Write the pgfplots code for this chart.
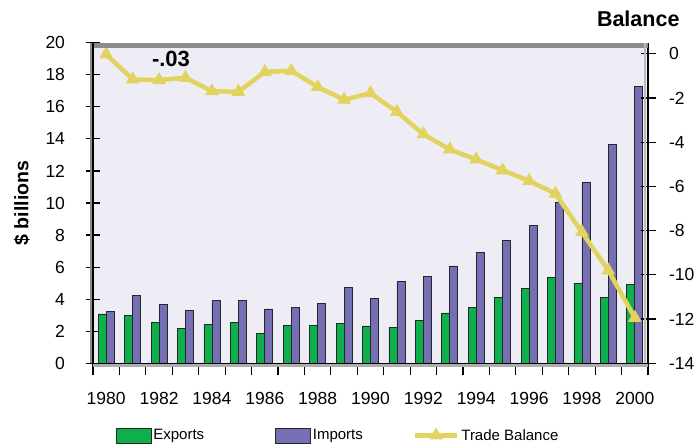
\documentclass[border=0pt]{standalone}
\usepackage{fontspec}
\setmainfont{Liberation Sans}
\usepackage{pgfplots}
\usepackage{pgfplotstable}
\pgfplotsset{compat=1.18}
\usetikzlibrary{calc}

\definecolor{expgreen}{RGB}{13,176,75}
\definecolor{impblue}{RGB}{117,112,179}
\definecolor{balyellow}{RGB}{226,211,94}
\definecolor{plotbg}{RGB}{238,237,246}
\definecolor{framegray}{RGB}{140,140,140}

\newcommand\tfont{\fontsize{17.5}{17.5}\selectfont}

% $ billions
\pgfplotstableread{
year exp imp
1980 3.08 3.26
1981 2.97 4.22
1982 2.53 3.68
1983 2.18 3.31
1984 2.45 3.90
1985 2.53 3.93
1986 1.89 3.39
1987 2.35 3.49
1988 2.35 3.74
1989 2.51 4.72
1990 2.33 4.05
1991 2.25 5.09
1992 2.68 5.43
1993 3.14 6.07
1994 3.49 6.92
1995 4.12 7.65
1996 4.65 8.61
1997 5.38 10.06
1998 4.99 11.27
1999 4.09 13.68
2000 4.93 17.25
}\trade

% balance
\pgfplotstableread{
year bal
1980 -0.03
1981 -1.16
1982 -1.19
1983 -1.09
1984 -1.69
1985 -1.72
1986 -0.82
1987 -0.77
1988 -1.50
1989 -2.08
1990 -1.78
1991 -2.63
1992 -3.64
1993 -4.33
1994 -4.78
1995 -5.27
1996 -5.75
1997 -6.33
1998 -8.07
1999 -9.80
2000 -11.94
}\balance

\pgfplotsset{
  common/.style={
    scale only axis, width=555pt, height=320.6pt,
    xmin=1979.5, xmax=2000.5,
    /pgf/number format/assume math mode=true,
    ticklabel style={font=\tfont},
    tick style={black, line width=1.2pt},
  },
  boxlegend/.style={
    legend image code/.code={\draw[##1] (0pt,-7.5pt) rectangle (35pt,7.5pt);}},
  linelegend/.style={
    legend image code/.code={\draw[mark repeat=2, mark phase=2, ##1]
      plot coordinates {(0pt,0pt) (21pt,0pt) (42pt,0pt)};}},
}

\begin{document}
\begin{tikzpicture}
\begin{axis}[common, name=ax, at={(0,0)}, anchor=south west,
  ymin=0, ymax=20,
  ybar=0pt, bar width=8pt,
  axis background/.style={fill=plotbg},
  axis y line*=left, axis x line*=bottom,
  axis line style={black, line width=1.5pt, -},
  ytick={0,2,...,20},
  yticklabel style={xshift=-17pt},
  ytick align=center, major tick length=15pt,
  xtick={1980,1982,...,2000},
  xticklabel style={/pgf/number format/1000 sep={}, yshift=-10pt},
  major x tick style={draw=none},
  minor xtick={1979.5,1980.5,...,2000.5},
  minor tick length=12pt, xtick align=outside,
  minor x tick style={black, line width=1.2pt},
  ylabel={\$ billions},
  ylabel style={font=\bfseries\fontsize{19.5}{19.5}\selectfont, at={(axis description cs:-0.128,0.5)}, anchor=center},
]
\addplot[draw=black!85, line width=0.7pt, fill=expgreen] table[x=year, y=exp] {\trade};
\addplot[draw=black!85, line width=0.7pt, fill=impblue] table[x=year, y=imp] {\trade};
\end{axis}

\begin{axis}[common, at={(ax.south west)}, anchor=south west,
  ymin=-14, ymax=0.5,
  axis y line*=right, axis x line=none,
  axis line style={black, line width=1.5pt, -},
  ytick={-14,-12,...,0},
  yticklabel style={xshift=10pt},
  ytick align=center, major tick length=15pt,
  legend columns=3,
  legend style={draw=none, fill=none, font=\fontsize{15}{15}\selectfont,
    at={(axis description cs:0.035,-0.225)}, anchor=west,
    /tikz/column 2/.style={column sep=69pt},
    /tikz/column 4/.style={column sep=48pt}},
]
\addlegendimage{boxlegend, draw=black!85, line width=0.7pt, fill=expgreen}
\addlegendentry{Exports}
\addlegendimage{boxlegend, draw=black!85, line width=0.7pt, fill=impblue}
\addlegendentry{Imports}
\addplot[linelegend, balyellow, line width=4.5pt, mark=triangle*, mark size=7pt,
  mark options={fill=balyellow, draw=balyellow, line width=1pt}]
  table[x=year, y=bal] {\balance};
\addlegendentry{Trade Balance}
\node[font=\bfseries\fontsize{22}{22}\selectfont] at (axis cs:1982.45,-0.25) {-.03};
\end{axis}

% frame decorations
\draw[framegray, line width=5pt] ($(ax.north west)+(0,-2.5pt)$) -- ($(ax.north east)+(0,-2.5pt)$);
\draw[framegray, line width=3pt] ($(ax.south west)+(-2pt,0)$) -- ($(ax.north west)+(-2pt,0)$);
\draw[black, line width=1.5pt] (ax.south west) -- (ax.north west);
\draw[framegray!70, line width=3pt] ($(ax.south west)+(0,-2pt)$) -- ($(ax.south east)+(0,-2pt)$);
\draw[black, line width=1.5pt] (ax.south west) -- (ax.south east);
\draw[framegray!60, line width=2pt] ($(ax.south east)+(-3pt,0)$) -- ($(ax.north east)+(-3pt,0)$);

\node[anchor=east, font=\bfseries\fontsize{21.5}{21.5}\selectfont] at ($(ax.north east)+(35pt,24pt)$) {Balance};
\pgfresetboundingbox
\path (-93pt,-83.7pt) rectangle (607pt,363.3pt);
\end{tikzpicture}
\end{document}
